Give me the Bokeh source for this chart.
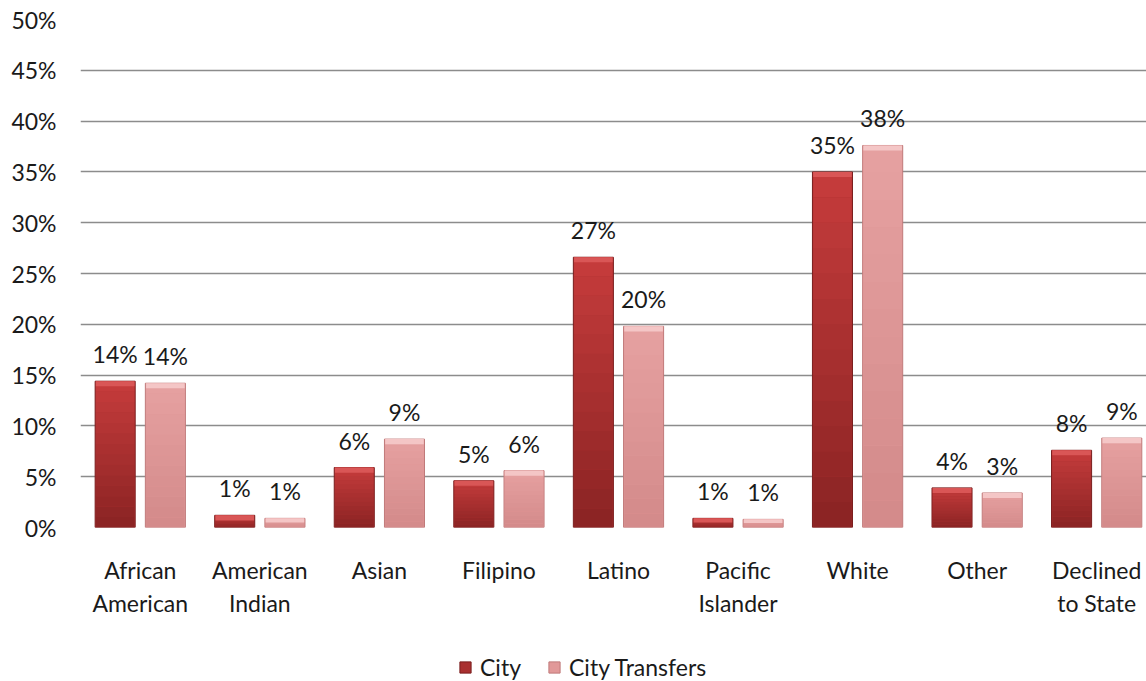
from bokeh.plotting import figure
from bokeh.layouts import column
from bokeh.models import (ColumnDataSource, Range1d, FixedTicker, Legend, LegendItem)
from bokeh.core.properties import value
from bokeh.embed import file_html
from bokeh.resources import INLINE

# ---- data ----
categories = ["African\nAmerican", "American\nIndian", "Asian", "Filipino", "Latino",
              "Pacific\nIslander", "White", "Other", "Declined\nto State"]
city = [14.4, 1.2, 5.9, 4.6, 26.6, 0.9, 35.0, 3.9, 7.6]
city_transfers = [14.2, 0.9, 8.7, 5.6, 19.8, 0.8, 37.6, 3.4, 8.8]
series_names = ["City", "City Transfers"]
y_ticks = [0, 5, 10, 15, 20, 25, 30, 35, 40, 45, 50]
y_tick_labels = ["0%", "5%", "10%", "15%", "20%", "25%", "30%", "35%", "40%", "45%", "50%"]

FONT = "Lato"
N = len(categories)
idx = list(range(N))
OFF = 0.21
BW = 0.335

p = figure(width=1146, height=640, output_backend="svg", toolbar_location=None,
           x_range=Range1d(-0.5, -0.5 + 1066 / 119.55), y_range=Range1d(0, 50),
           min_border_left=80, min_border_right=0, min_border_top=19, min_border_bottom=113)
p.outline_line_color = None
p.background_fill_color = "white"
p.border_fill_color = "white"

# grid
p.xgrid.visible = False
p.ygrid.ticker = FixedTicker(ticks=y_ticks)
p.ygrid.grid_line_color = "#8C8C8C"
p.ygrid.grid_line_width = 1.5

# y axis
p.yaxis.ticker = FixedTicker(ticks=y_ticks)
p.yaxis.major_label_overrides = {t: l for t, l in zip(y_ticks, y_tick_labels)}
p.yaxis.axis_line_color = None
p.yaxis.major_tick_line_color = None
p.yaxis.minor_tick_line_color = None
p.yaxis.major_label_standoff = 18
p.yaxis.major_label_text_font = FONT
p.yaxis.major_label_text_font_size = "23px"
p.yaxis.major_label_text_color = "#1a1a1a"

# x axis
p.xaxis.ticker = FixedTicker(ticks=idx)
p.xaxis.major_label_overrides = {i: c for i, c in enumerate(categories)}
p.xaxis.axis_line_color = None
p.xaxis.major_tick_line_color = None
p.xaxis.minor_tick_line_color = None
p.xaxis.major_label_standoff = 22
p.xaxis.major_label_text_font = FONT
p.xaxis.major_label_text_font_size = "23px"
p.xaxis.major_label_text_color = "#1a1a1a"


def hex2rgb(h):
    h = h.lstrip("#")
    return [int(h[i:i + 2], 16) for i in (0, 2, 4)]


def mix(a, b, t):
    ca, cb = hex2rgb(a), hex2rgb(b)
    return "#%02x%02x%02x" % tuple(int(round(ca[i] + (cb[i] - ca[i]) * t)) for i in range(3))


styles = [
    dict(base="#A93030", bottom="#8A2323", top="#C63C3C", cap="#D95656", edge="#7A1E1E"),
    dict(base="#E19999", bottom="#D38A8A", top="#E6A1A1", cap="#F4C6C6", edge="#C07A7A"),
]

# legend-only strip below the chart (its ranges keep the bars themselves off-screen)
pl = figure(width=1146, height=41, output_backend="svg", toolbar_location=None,
            x_axis_type=None, y_axis_type=None,
            x_range=Range1d(-1000, -999), y_range=Range1d(-1000, -999),
            min_border_left=0, min_border_right=0, min_border_top=0, min_border_bottom=0)
pl.outline_line_color = None
pl.xgrid.visible = False
pl.ygrid.visible = False

legend_items = []
for s, (vals, name, off) in enumerate(zip([city, city_transfers], series_names, [-OFF, OFF])):
    st = styles[s]
    xs = [i + off for i in idx]
    src = ColumnDataSource(dict(x=xs, top=vals, label=["%d%%" % int(v + 0.5) for v in vals]))
    p.vbar(x="x", top="top", bottom=0, width=BW, source=src,
           fill_color=st["base"], line_color=st["edge"], line_width=1)
    # vertical gradient slices
    NS = 14
    gx, gb, gt, gc = [], [], [], []
    for xi, v in zip(xs, vals):
        for k in range(NS):
            gx.append(xi)
            gb.append(v * k / NS)
            gt.append(v * (k + 1) / NS)
            gc.append(mix(st["bottom"], st["top"], (k + 0.5) / NS))
    p.vbar(x=gx, bottom=gb, top=gt, width=BW - 0.012, fill_color=gc, line_color=None)
    # light top cap
    capb = [v - min(0.5, v * 0.45) for v in vals]
    p.vbar(x=xs, bottom=capb, top=vals, width=BW - 0.012, fill_color=st["cap"], line_color=None)
    # data labels
    p.text(x="x", y="top", text="label", source=src, text_align="center",
           text_baseline="alphabetic", y_offset=-27, text_font=value(FONT),
           text_font_size="23px", text_color="#1a1a1a")
    # legend swatch renderer: same series, drawn out of view in the legend strip
    sw = pl.vbar(x="x", top="top", bottom=0, width=BW, source=src,
                 fill_color=st["base"], line_color=st["edge"], line_width=1)
    legend_items.append(LegendItem(label=name, renderers=[sw]))

legend = Legend(items=legend_items, orientation="horizontal", location=(378, 0),
                padding=0, margin=0, spacing=26, glyph_width=14, glyph_height=14,
                label_standoff=8, label_text_font=FONT, label_text_font_size="23px",
                label_text_color="#1a1a1a", border_line_color=None,
                background_fill_alpha=0)
pl.add_layout(legend, "center")

layout = column(p, pl, spacing=0)
open("out.html", "w").write(file_html(layout, INLINE))
